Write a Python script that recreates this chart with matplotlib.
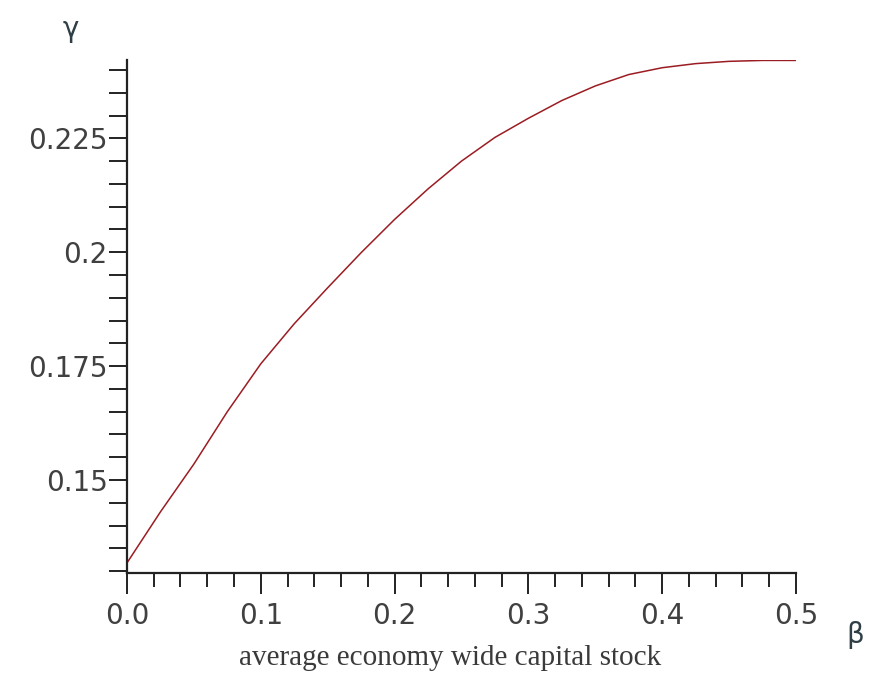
"""Courbe gamma en fonction de beta (style Maple)."""
import matplotlib

matplotlib.use("Agg")
import matplotlib.pyplot as plt
from matplotlib.ticker import MultipleLocator, FixedLocator

# Valeurs
BETA = [0.0, 0.025, 0.05, 0.075, 0.1, 0.125, 0.15, 0.175, 0.2, 0.225, 0.25,
        0.275, 0.3, 0.325, 0.35, 0.375, 0.4, 0.425, 0.45, 0.475, 0.5]
GAMMA = [0.1318, 0.1430, 0.1535, 0.1650, 0.1755, 0.1843, 0.1922, 0.1999, 0.2072,
         0.2139, 0.2200, 0.2252, 0.2294, 0.2333, 0.2365, 0.2390, 0.2405, 0.2414,
         0.2419, 0.2421, 0.2421]
X_TICKS = [0.0, 0.1, 0.2, 0.3, 0.4, 0.5]
X_LABELS = ["0.0", "0.1", "0.2", "0.3", "0.4", "0.5"]
Y_TICKS = [0.15, 0.175, 0.2, 0.225]
Y_LABELS = ["0.15", "0.175", "0.2", "0.225"]

fig = plt.figure(figsize=(8.78, 6.8), dpi=100)
ax = fig.add_axes([0.1446, 0.1574, 0.762, 0.7544])

ax.plot(BETA, GAMMA, color="#9b1c22", lw=1.1)

ax.set_xlim(0.0, 0.5)
ax.set_ylim(0.1296, 0.2422)

for side in ("top", "right"):
	ax.spines[side].set_visible(False)
for side in ("left", "bottom"):
	ax.spines[side].set_linewidth(1.6)
	ax.spines[side].set_color("#222222")

ax.xaxis.set_major_locator(FixedLocator(X_TICKS))
ax.set_xticklabels(X_LABELS)
ax.xaxis.set_minor_locator(MultipleLocator(0.02))
ax.yaxis.set_major_locator(FixedLocator(Y_TICKS))
ax.set_yticklabels(Y_LABELS)
ax.yaxis.set_minor_locator(MultipleLocator(0.005))

ax.tick_params(axis="x", which="major", direction="out", length=15, width=1.4, color="#222222",
               labelsize=20, labelcolor="#404040", pad=6)
ax.tick_params(axis="x", which="minor", direction="out", length=10, width=1.4, color="#222222")
ax.tick_params(axis="y", which="major", direction="out", length=13, width=1.4, color="#222222",
               labelsize=20, labelcolor="#404040", pad=1)
ax.tick_params(axis="y", which="minor", direction="out", length=13, width=1.4, color="#222222")

fig.text(0.513, 0.022, "average economy wide capital stock", family="Liberation Serif",
         fontsize=21, color="#3a3a3a", ha="center", va="baseline")
fig.text(0.081, 0.958, "γ", fontsize=20, color="#2f3f45", ha="center", va="center")
fig.text(0.974, 0.066, "β", fontsize=20, color="#2f3f45", ha="center", va="center")

fig.savefig("out.png", dpi=100)
plt.close(fig)
